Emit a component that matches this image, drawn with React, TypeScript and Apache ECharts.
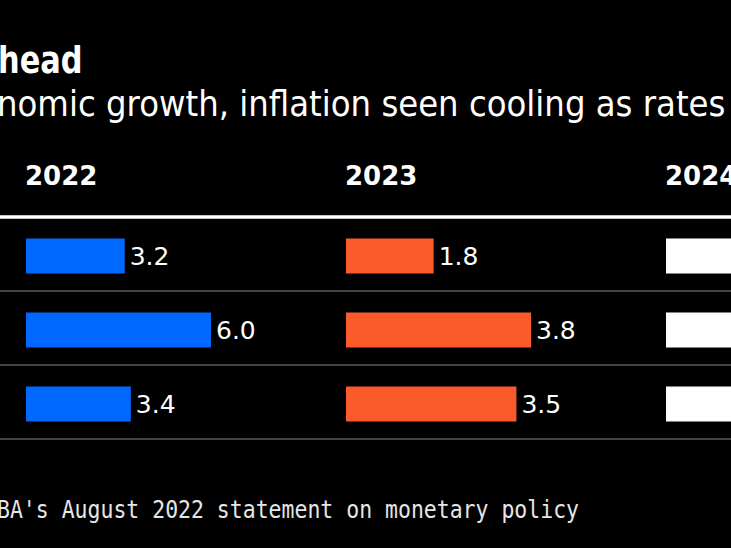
import React, { useEffect, useRef } from "react";
import * as echarts from "echarts";

// Data (rows are cropped out on the left of the reference)
const rows = ["GDP growth", "Trimmed mean inflation", "Unemployment rate"];
const years = ["2022", "2023", "2024"];
const values2022 = [3.2, 6.0, 3.4];
const values2023 = [1.8, 3.8, 3.5];
const values2024 = [1.8, 3.0, 3.9];
const columnValues = [values2022, values2023, values2024];
const columnColors = ["#0068ff", "#fb5b2b", "#ffffff"];

// Visible text fragments (the reference is cropped)
const titleText = "head";
const subtitleText = "nomic growth, inflation seen cooling as rates";
const footerText = "BA's August 2022 statement on monetary policy";

const W = 731;
const H = 548;
const COL_LEFT = [26, 346, 666];
const COL_WIDTH = 185;
const GRID_TOP = 219;
const ROW_H = 74;

export default function App() {
  const ref = useRef<HTMLDivElement>(null);

  useEffect(() => {
    if (!ref.current) return;
    const chart = echarts.init(ref.current, undefined, { renderer: "svg" });

    // each column: its largest value spans COL_WIDTH px; columns cut by the
    // right edge keep the same scale over the visible width only
    const visibleWidth = COL_LEFT.map((left) => Math.min(COL_WIDTH, W - left));

    const grids = COL_LEFT.map((left, i) => ({
      left,
      top: GRID_TOP,
      width: visibleWidth[i],
      height: ROW_H * rows.length,
      containLabel: false,
    }));
    const xAxes = columnValues.map((vals, i) => ({
      type: "value" as const,
      gridIndex: i,
      min: 0,
      max: (Math.max(...vals) * visibleWidth[i]) / COL_WIDTH,
      show: false,
    }));
    const yAxes = columnValues.map((_, i) => ({
      type: "category" as const,
      gridIndex: i,
      data: rows,
      inverse: true,
      show: false,
    }));
    const series = columnValues.map((vals, i) => ({
      type: "bar" as const,
      xAxisIndex: i,
      yAxisIndex: i,
      data: vals,
      barWidth: 35,
      silent: true,
      clip: true,
      itemStyle: { color: columnColors[i] },
      label: {
        show: visibleWidth[i] === COL_WIDTH,
        position: "right" as const,
        distance: 5,
        color: "#ffffff",
        fontFamily: "DejaVu Sans",
        fontSize: 25,
        formatter: (p: any) => Number(p.value).toFixed(1),
      },
    }));

    const graphic: any[] = [
      {
        type: "text",
        x: -2,
        y: 60,
        scaleX: 0.8,
        style: {
          x: 0,
          y: 0,
          text: titleText,
          fill: "#ffffff",
          font: "bold 38px 'DejaVu Sans'",
          verticalAlign: "middle",
        },
      },
      {
        type: "text",
        x: -3,
        y: 103,
        scaleX: 0.9,
        style: {
          x: 0,
          y: 0,
          text: subtitleText,
          fill: "#ffffff",
          font: "36px 'DejaVu Sans'",
          verticalAlign: "middle",
        },
      },
      ...years.map((yr, i) => ({
        type: "text",
        x: COL_LEFT[i] - 1,
        y: 176,
        style: {
          x: 0,
          y: 0,
          text: yr,
          fill: "#ffffff",
          font: "bold 26px 'DejaVu Sans'",
          verticalAlign: "middle",
        },
      })),
      {
        type: "line",
        shape: { x1: 0, y1: 217, x2: W, y2: 217 },
        style: { stroke: "#ffffff", lineWidth: 3.5 },
      },
      ...[291, 365, 439].map((y) => ({
        type: "line",
        shape: { x1: 0, y1: y, x2: W, y2: y },
        style: { stroke: "#444444", lineWidth: 2 },
      })),
      {
        type: "text",
        x: -3,
        y: 509,
        scaleX: 0.86,
        style: {
          x: 0,
          y: 0,
          text: footerText,
          fill: "#e6e6e6",
          font: "25px 'DejaVu Sans Mono'",
          verticalAlign: "middle",
        },
      },
    ];

    chart.setOption({
      animation: false,
      backgroundColor: "#000000",
      grid: grids,
      xAxis: xAxes,
      yAxis: yAxes,
      series,
      graphic,
    });

    return () => chart.dispose();
  }, []);

  return (
    <div
      ref={ref}
      style={{ position: "fixed", left: 0, top: 0, width: W, height: H, background: "#000" }}
    />
  );
}
